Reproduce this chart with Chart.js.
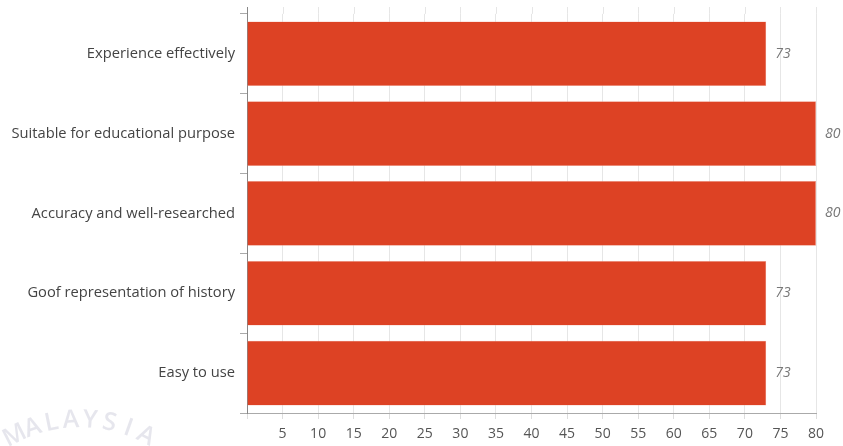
<!DOCTYPE html>
<html>
<head>
<meta charset="utf-8">
<script src="https://cdn.jsdelivr.net/npm/chart.js@4"></script>
<style>
  html, body { margin: 0; padding: 0; background: #fff; }
  #wrap { width: 843px; height: 446px; position: relative; }
</style>
</head>
<body>
<div id="wrap"><canvas id="chart"></canvas></div>
<script>
// chart data
const categories = [
    'Experience effectively',
    'Suitable for educational purpose',
    'Accuracy and well-researched',
    'Goof representation of history',
    'Easy to use'
];
const scores = [73, 80, 80, 73, 73];
const watermarkText = 'MALAYSIA';

// faint watermark letters along an arc, bottom-left
const watermark = {
    id: 'watermark',
    beforeDraw(chart) {
        const ctx = chart.ctx;
        ctx.save();
        ctx.font = '600 25px "Open Sans"';
        ctx.fillStyle = 'rgba(200, 200, 215, 0.45)';
        ctx.textAlign = 'center';
        ctx.textBaseline = 'middle';
        const cx = 80, cy = 564, r = 144;
        watermarkText.split('').forEach((ch, i) => {
            const a = -2.04 + i * 0.135;
            ctx.save();
            ctx.translate(cx + r * Math.cos(a), cy + r * Math.sin(a));
            ctx.rotate(a + Math.PI / 2);
            ctx.fillText(ch, 0, 0);
            ctx.restore();
        });
        ctx.restore();
    }
};

// axis and grid lines run a little above the first category
const topExtend = {
    id: 'topExtend',
    afterDraw(chart) {
        const ctx = chart.ctx;
        const x = chart.scales.x;
        const top = chart.chartArea.top;
        ctx.save();
        ctx.lineWidth = 1;
        ctx.strokeStyle = '#e6e6e6';
        x.ticks.forEach(t => {
            if (t.value === 0) return;
            const px = Math.round(x.getPixelForValue(t.value)) + 0.5;
            ctx.beginPath();
            ctx.moveTo(px, 7);
            ctx.lineTo(px, top);
            ctx.stroke();
        });
        ctx.strokeStyle = '#888';
        const ax = Math.round(chart.chartArea.left) + 0.5;
        ctx.beginPath();
        ctx.moveTo(ax, 7);
        ctx.lineTo(ax, top);
        ctx.stroke();
        ctx.restore();
    }
};

// value labels at the end of each bar
const valueLabels = {
    id: 'valueLabels',
    afterDatasetsDraw(chart) {
        const ctx = chart.ctx;
        const meta = chart.getDatasetMeta(0);
        ctx.save();
        ctx.font = 'italic 14px "Open Sans"';
        ctx.fillStyle = '#777';
        ctx.textAlign = 'left';
        ctx.textBaseline = 'middle';
        meta.data.forEach((bar, i) => {
            ctx.fillText(scores[i], bar.x + 9, bar.y);
        });
        ctx.restore();
    }
};

new Chart(document.getElementById('chart').getContext('2d'), {
    type: 'bar',
    data: {
        labels: categories,
        datasets: [{
            data: scores,
            backgroundColor: '#DD4224',
            borderColor: '#F2A898',
            borderWidth: 0.5,
            barPercentage: 0.81,
            categoryPercentage: 1
        }]
    },
    options: {
        indexAxis: 'y',
        responsive: true,
        maintainAspectRatio: false,
        animation: false,
        layout: { padding: { top: 13, right: 27, left: 0, bottom: 0 } },
        plugins: {
            legend: { display: false },
            tooltip: { enabled: false }
        },
        scales: {
            x: {
                min: 0,
                max: 80,
                ticks: {
                    stepSize: 5,
                    color: '#555',
                    font: { family: 'Open Sans', size: 14 },
                    padding: 7,
                    callback: v => v === 0 ? '' : v
                },
                grid: {
                    color: '#e6e6e6',
                    tickColor: '#ddd',
                    tickLength: 6
                },
                border: { color: '#aaa', width: 1 },
                afterFit: s => { s.height = 33; }
            },
            y: {
                ticks: {
                    color: '#444',
                    font: { family: 'Open Sans', size: 14.7 },
                    padding: 5
                },
                grid: {
                    offset: true,
                    drawOnChartArea: false,
                    color: '#aaa',
                    tickLength: 7
                },
                border: { color: '#888', width: 1 },
                afterFit: s => { s.width = 247; }
            }
        }
    },
    plugins: [watermark, topExtend, valueLabels]
});
</script>
</body>
</html>
